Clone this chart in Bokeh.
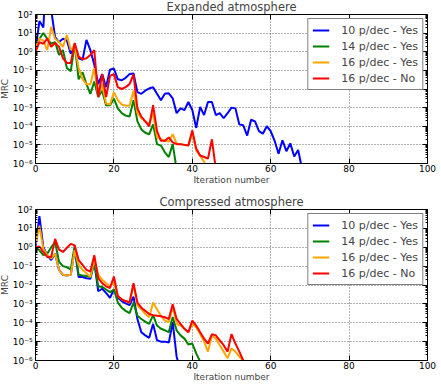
import numpy as np
from bokeh.plotting import figure
from bokeh.layouts import column
from bokeh.models import (LogAxis, LinearAxis, Legend, LegendItem, CustomJSTickFormatter,
                          FixedTicker, Range1d)
from bokeh.embed import file_html
from bokeh.resources import INLINE

# ---------------- data (log10 of MRC per iteration) ----------------
labels = ["10 p/dec - Yes", "14 p/dec - Yes", "16 p/dec - Yes", "16 p/dec - No"]
colors = ["#0000ff", "#008000", "#ffa500", "#ff0000"]
titles = ["Expanded atmosphere", "Compressed atmosphere"]
x_ticks = [0, 20, 40, 60, 80, 100]
y_exponents = [-6, -5, -4, -3, -2, -1, 0, 1, 2]

exp_10yes_log = [0.09, 1.65, 1.3, 5.0, 2.25, 0.78, 0.52, 0.7, 0.6, -0.1, 0.35, -0.35, -0.43, 0.64, 0.09,
                 -0.7, -1.74, -1.2, -1.9, -0.96, -0.9, -1.48, -1.53, -1.4, -1.2, -1.17, -2.17, -2.26,
                 -2.09, -1.97, -1.9, -2.26, -2.6, -2.26, -2.23, -2.5, -3.3, -3.04, -3.13, -2.7, -3.13,
                 -4.09, -2.96, -3.4, -2.7, -2.7, -3.4, -3.3, -3.57, -3.3, -3.0, -3.04, -3.9, -3.95,
                 -4.5, -3.65, -3.74, -4.26, -4.4, -4.0, -4.26, -4.78, -5.48, -4.75, -5.34, -4.92,
                 -5.62, -5.27, -6.3]
exp_14yes_log = [0.26, 0.7, 1.0, 0.7, 0.43, 0.52, -0.17, 0.09, -0.87, -1.04, 0.43, -1.48, -1.1, -1.74,
                 -2.26, -1.6, -2.43, -2.09, -2.87, -2.87, -2.52, -3.04, -3.3, -3.43, -3.48, -2.6,
                 -3.74, -4.17, -4.35, -4.43, -3.9, -4.96, -5.04, -5.4, -5.65, -4.96, -6.3]
exp_16yes_log = [0.17, 0.7, 0.6, 0.09, 1.34, 0.7, 0.52, 0.26, 0.9, 0.09, 0.35, -0.87, -1.48, -1.74,
                 -1.74, -0.87, -2.35, -1.74, -2.78, -2.83, -2.17, -2.6, -2.83, -2.9, -2.9, -2.09,
                 -3.3, -3.57, -3.74, -3.88, -3.3, -4.6, -4.7, -4.78, -4.82, -4.43, -4.92, -4.96,
                 -5.0, -5.04, -4.35, -5.3, -5.6, -5.9, -6.3]
exp_16no_log = [0.0, 0.52, 0.43, 0.7, 0.26, 0.47, 0.26, -0.35, -0.6, -0.6, 0.47, -0.26, -0.4, -0.35,
                -0.17, 0.09, -2.43, -1.2, -2.43, -1.3, -1.2, -1.9, -2.0, -1.9, -1.74, -1.22, -3.04,
                -3.48, -3.74, -4.0, -2.87, -4.26, -4.78, -4.78, -4.6, -4.87, -4.96, -4.96, -5.0,
                -5.04, -4.22, -5.2, -5.57, -5.65, -5.74, -4.7, -6.3]

cmp_10yes_log = [0.0, 1.65, 0.0, -0.42, -0.68, -0.34, -1.2, -1.46, -1.5, -1.46, -0.08, -1.58, -1.58,
                 -1.64, -1.67, -0.77, -2.33, -2.2, -2.42, -2.68, -2.24, -2.68, -2.85, -2.97, -3.07,
                 -2.62, -3.8, -4.5, -4.67, -4.8, -4.06, -4.93, -5.0, -5.0, -5.05, -3.97, -5.8, -6.5]
cmp_14yes_log = [0.0, -0.16, -0.42, -0.34, 0.0, 0.27, -0.77, -1.0, -1.06, -1.17, 0.1, -1.46, -1.5,
                 -1.52, -1.58, -0.82, -2.07, -2.1, -2.24, -2.38, -2.24, -2.93, -3.2, -3.37, -3.49,
                 -2.93, -3.63, -3.8, -3.94, -4.06, -3.6, -4.15, -4.32, -4.4, -4.5, -3.7, -4.4,
                 -4.67, -4.84, -5.15, -5.1, -5.62, -6.05, -6.5]
cmp_16yes_log = [0.18, 1.13, -0.08, -0.42, -0.6, -0.34, -1.2, -1.46, -1.5, -1.46, -0.16, -0.94, -1.2,
                 -1.38, -1.58, -0.68, -1.46, -1.72, -1.9, -2.07, -1.86, -2.59, -2.76, -2.85, -2.93,
                 -1.98, -3.1, -3.28, -3.54, -3.71, -2.93, -3.28, -3.63, -3.89, -3.97, -3.14, -4.06,
                 -4.15, -4.32, -4.5, -4.06, -4.25, -4.6, -5.0, -5.53, -4.67, -4.84, -5.19, -5.53,
                 -5.88, -5.36, -5.53, -5.8, -6.0, -6.4]
cmp_16no_log = [0.0, 0.04, -0.25, -0.51, -0.51, 0.44, -0.13, -0.25, -0.03, 0.18, 0.1, -0.68, -0.94,
                -1.2, -1.29, -0.42, -1.64, -1.9, -2.07, -2.16, -1.55, -2.59, -2.76, -2.85, -2.93,
                -1.9, -2.93, -3.2, -3.37, -3.54, -3.6, -3.63, -3.66, -3.71, -3.8, -3.02, -3.8,
                -4.06, -4.32, -4.5, -3.89, -4.15, -4.5, -4.84, -5.1, -4.6, -4.67, -4.93, -5.19,
                -5.53, -4.6, -5.1, -5.53, -6.0, -6.4]

panels = [
    [exp_10yes_log, exp_14yes_log, exp_16yes_log, exp_16no_log],
    [cmp_10yes_log, cmp_14yes_log, cmp_16yes_log, cmp_16no_log],
]

FONT = "DejaVu Sans"
sup_js = """
const e = Math.round(Math.log10(tick));
const m = {'-':'\u207b','0':'\u2070','1':'\u00b9','2':'\u00b2','3':'\u00b3','4':'\u2074',
           '5':'\u2075','6':'\u2076','7':'\u2077','8':'\u2078','9':'\u2079'};
return '10' + String(e).split('').map(c => m[c]).join('');
"""

y_major = [10.0 ** e for e in y_exponents]
y_minor = [k * 10.0 ** e for e in y_exponents[:-1] for k in range(2, 10)]


def style_axis(ax, show_labels):
    ax.axis_line_color = "black"
    ax.major_tick_line_color = "black"
    ax.minor_tick_line_color = "black"
    ax.major_tick_in = 5
    ax.major_tick_out = 0
    ax.minor_tick_in = 2
    ax.minor_tick_out = 0
    ax.major_label_text_font = FONT
    ax.major_label_text_font_size = "9px"
    ax.major_label_text_color = "black"
    ax.axis_label_text_font = FONT
    ax.axis_label_text_font_size = "9px"
    ax.axis_label_text_font_style = "normal"
    if not show_labels:
        ax.formatter = CustomJSTickFormatter(code="return '';")
        ax.major_label_standoff = 0


def make_panel(title, series, height, top, bottom):
    p = figure(width=441, height=height, y_axis_type="log",
               x_range=Range1d(0, 100), y_range=Range1d(1e-6, 1e2),
               output_backend="svg", toolbar_location=None, title=title,
               min_border_left=0, min_border_right=10, min_border_top=top,
               min_border_bottom=bottom)
    p.title.text_font = FONT
    p.title.text_font_size = "11.5px"
    p.title.text_font_style = "normal"
    p.title.align = "center"
    p.title.standoff = 2
    p.outline_line_color = "black"
    p.outline_line_width = 1
    p.background_fill_color = "white"
    p.border_fill_color = "white"

    xt = FixedTicker(ticks=x_ticks, minor_ticks=[])
    yt = FixedTicker(ticks=y_major, minor_ticks=y_minor)

    p.xaxis.ticker = xt
    p.yaxis.ticker = yt
    p.yaxis.formatter = CustomJSTickFormatter(code=sup_js)
    p.xaxis.axis_label = "Iteration number"
    p.yaxis.axis_label = "MRC"
    for ax in p.xaxis + p.yaxis:
        style_axis(ax, True)
    p.xaxis.major_label_standoff = 1
    p.yaxis.major_label_standoff = 3
    p.xaxis.axis_label_standoff = 0
    p.yaxis.axis_label_standoff = 0

    top_ax = LinearAxis(ticker=xt)
    right_ax = LogAxis(ticker=yt)
    style_axis(top_ax, False)
    style_axis(right_ax, False)
    p.add_layout(top_ax, "above")
    p.add_layout(right_ax, "right")

    p.xgrid.ticker = xt
    p.ygrid.ticker = yt
    for g in (p.xgrid, p.ygrid):
        g.grid_line_color = "black"
        g.grid_line_alpha = 0.6
        g.grid_line_dash = "1 2"
        g.grid_line_width = 1
    p.ygrid.minor_grid_line_color = None

    items = []
    for vals, col, lab in zip(series, colors, labels):
        xs = list(range(len(vals)))
        ys = [10.0 ** v for v in vals]
        r = p.line(xs, ys, line_color=col, line_width=2)
        items.append(LegendItem(label=lab, renderers=[r]))
    leg = Legend(items=items, location="top_right")
    leg.label_text_font = FONT
    leg.label_text_font_size = "11px"
    leg.border_line_color = "black"
    leg.border_line_width = 1
    leg.background_fill_alpha = 1
    leg.padding = 4
    leg.margin = 4
    leg.spacing = 2
    leg.glyph_width = 17
    leg.glyph_height = 14
    leg.label_height = 14
    leg.label_standoff = 12
    p.add_layout(leg)
    return p


p1 = make_panel(titles[0], panels[0], 193, 13, 26)
p2 = make_panel(titles[1], panels[1], 195, 20, 21)

layout = column(p1, p2, spacing=0, margin=(-4, -4, -4, -4))

html = file_html(layout, INLINE, title="MRC")
with open("out.html", "w") as f:
    f.write(html)
